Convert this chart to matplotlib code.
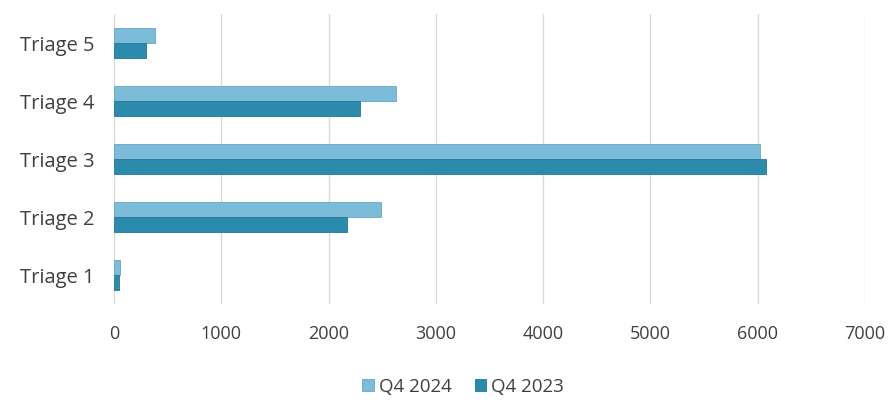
import numpy as np
import matplotlib.pyplot as plt

# data
categories = ['Triage 1', 'Triage 2', 'Triage 3', 'Triage 4', 'Triage 5']
q4_2024 = [55, 2490, 6020, 2625, 385]
q4_2023 = [50, 2170, 6075, 2290, 300]
x_ticks = [0, 1000, 2000, 3000, 4000, 5000, 6000, 7000]

plt.rcParams['font.family'] = ['Open Sans', 'DejaVu Sans']

fig, ax = plt.subplots(figsize=(8.9, 4.03), dpi=100)
fig.subplots_adjust(left=0.128, right=0.972, top=0.965, bottom=0.245)

y = np.arange(len(categories))
h = 0.26
ax.barh(y + h / 2, q4_2024, height=h, color='#7dbcd8', edgecolor='#5ea9c8',
        linewidth=0.6, label='Q4 2024', zorder=3)
ax.barh(y - h / 2, q4_2023, height=h, color='#2a8bad', edgecolor='#1f7a9a',
        linewidth=0.6, label='Q4 2023', zorder=3)

ax.set_yticks(y)
ax.set_yticklabels(categories)
ax.set_ylim(-0.5, len(categories) - 0.5)
ax.set_xlim(0, 7000)
ax.set_xticks(x_ticks)

ax.grid(axis='x', color='#d9d9d9', linewidth=1, zorder=0)
for s in ax.spines.values():
    s.set_visible(False)
ax.tick_params(axis='both', length=0, colors='#404040')
ax.tick_params(axis='x', pad=15, labelsize=13)
ax.tick_params(axis='y', pad=14, labelsize=14.5)

ax.legend(loc='upper center', bbox_to_anchor=(0.465, -0.195), ncol=2, frameon=False,
          fontsize=13.5, labelcolor='#404040', handlelength=0.6, handleheight=0.6,
          columnspacing=1.2, handletextpad=0.3)

plt.savefig('out.png', dpi=100)
